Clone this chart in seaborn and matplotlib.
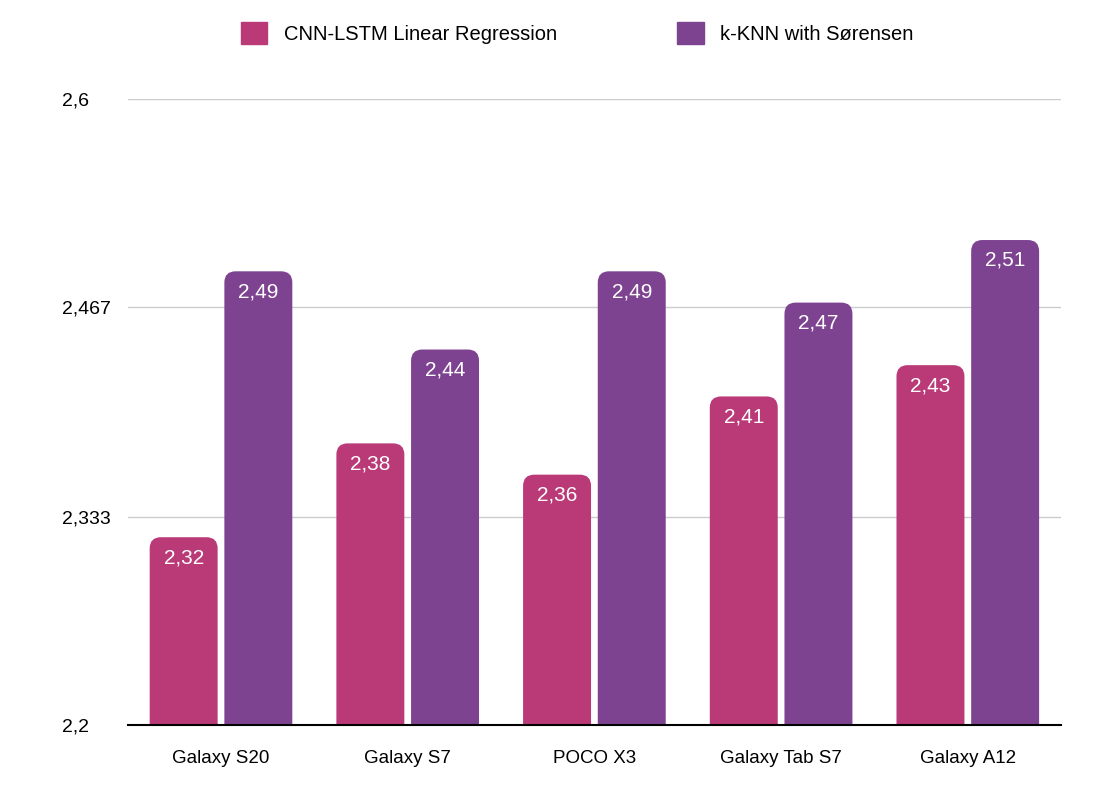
import pandas as pd
import matplotlib
matplotlib.use("Agg")
import matplotlib.pyplot as plt
import seaborn as sns
from matplotlib.patches import FancyBboxPatch

devices = ["Galaxy S20", "Galaxy S7", "POCO X3", "Galaxy Tab S7", "Galaxy A12"]
series = ["CNN-LSTM Linear Regression", "k-KNN with Sørensen"]
cnn_lstm = [2.32, 2.38, 2.36, 2.41, 2.43]
knn_sorensen = [2.49, 2.44, 2.49, 2.47, 2.51]
yticks = [2.2, 2.333, 2.467, 2.6]
colors = ["#BA3A78", "#7E4390"]

df = pd.DataFrame({
    "device": devices * 2,
    "model": [series[0]] * 5 + [series[1]] * 5,
    "value": cnn_lstm + knn_sorensen,
})

sns.set_theme(style="white")
plt.rcParams['font.family'] = ['Liberation Sans', 'DejaVu Sans']
plt.rcParams['text.color'] = 'black'

fig = plt.figure(figsize=(11.1, 7.94), dpi=100)
ax = fig.add_axes([0.115, 0.087, 0.841, 0.788])
sns.barplot(data=df, x="device", y="value", hue="model", palette=colors,
            saturation=1, width=0.8, gap=0.09, ax=ax, legend=False)
ax.set_ylim(2.2, 2.6)
ax.set_xlim(-0.5, 4.5)

# rounded tops: replace rectangles
xr = 5.0
yr = 0.4
aspect = (yr / xr) * (0.841 * 1110) / (0.788 * 794)
rad = 0.06
for p in list(ax.patches):
    x, w, h = p.get_x(), p.get_width(), p.get_height()
    top = p.get_y() + h
    fc = p.get_facecolor()
    p.remove()
    low = 2.2 - 0.03
    fb = FancyBboxPatch((x, low), w, top - low,
                        boxstyle=f"round,pad=0,rounding_size={rad}",
                        mutation_aspect=aspect, fc=fc, ec="none", zorder=2,
                        clip_on=True)
    ax.add_patch(fb)
    ax.text(x + w / 2, top - 0.007, f"{top:.2f}".replace(".", ","),
            ha="center", va="top", color="white", fontsize=15, zorder=3)

ax.set_yticks(yticks)
ax.set_yticklabels([str(v).replace(".", ",") for v in yticks], fontsize=14,
                   color="black")
ax.tick_params(axis="x", labelsize=13.5, pad=12, labelcolor="black")
for lab in ax.get_yticklabels():
    lab.set_horizontalalignment("left")
ax.yaxis.set_tick_params(pad=47, length=0)
ax.set_xlabel("")
ax.set_ylabel("")
ax.grid(axis="y", color="#CCCCCC", linewidth=1, zorder=0)
ax.set_axisbelow(True)
for s in ["top", "right", "left"]:
    ax.spines[s].set_visible(False)
ax.spines["bottom"].set_color("black")
ax.spines["bottom"].set_linewidth(1.5)
ax.spines["bottom"].set_zorder(4)

handles = [plt.Rectangle((0, 0), 1, 1, color=c) for c in colors]
fig.legend(handles, series, loc="upper center", bbox_to_anchor=(0.52, 0.995),
           ncol=2, frameon=False, fontsize=14.5, handlelength=1.3,
           handleheight=1.3, columnspacing=6, labelcolor="black")

fig.savefig("out.png", dpi=100)
